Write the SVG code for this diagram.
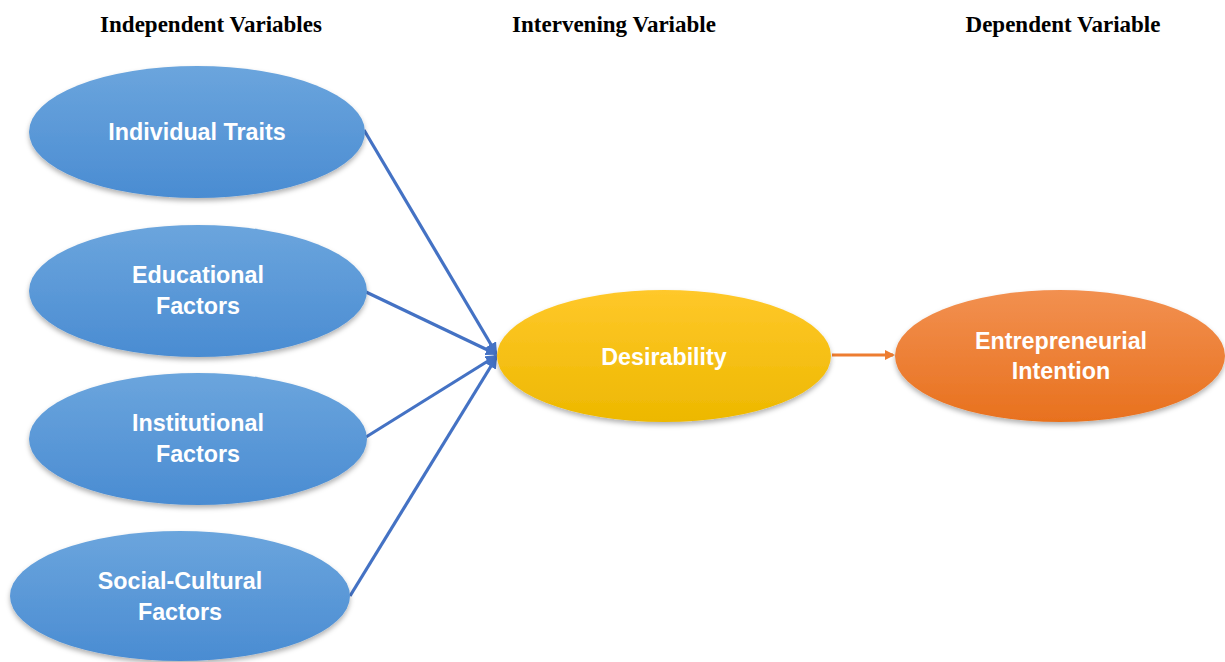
<svg xmlns="http://www.w3.org/2000/svg" width="1225" height="662" viewBox="0 0 1225 662">
<style>
.hdr{font-family:"Liberation Serif",serif;font-weight:bold;font-size:23px;fill:#000;text-anchor:middle}
.lbl{font-family:"Liberation Sans",Arial,sans-serif;font-weight:bold;font-size:23.3px;fill:#fff;text-anchor:middle}
.blue{fill:url(#gBlue);filter:url(#sh)}
.edge{stroke:#4472C4;stroke-width:3.2;fill:none}
</style>
<defs>
<linearGradient id="gBlue" x1="0" y1="0" x2="0" y2="1"><stop offset="0" stop-color="#6BA5DD"/><stop offset="1" stop-color="#4A8CD2"/></linearGradient>
<linearGradient id="gYel" x1="0" y1="0" x2="0" y2="1"><stop offset="0" stop-color="#FFC82A"/><stop offset="1" stop-color="#EDB800"/></linearGradient>
<linearGradient id="gOr" x1="0" y1="0" x2="0" y2="1"><stop offset="0" stop-color="#F29050"/><stop offset="1" stop-color="#E8711E"/></linearGradient>
<filter id="sh" x="-10%" y="-10%" width="120%" height="130%"><feDropShadow dx="0" dy="3" stdDeviation="2.5" flood-color="#000" flood-opacity="0.3"/></filter>
<marker id="aB" markerWidth="12" markerHeight="12" refX="10" refY="6" orient="auto" markerUnits="userSpaceOnUse"><path d="M0,0 L12,6 L0,12 Z" fill="#4472C4"/></marker>
<marker id="aO" markerWidth="10" markerHeight="10" refX="8" refY="5" orient="auto" markerUnits="userSpaceOnUse"><path d="M0,0 L10,5 L0,10 Z" fill="#ED7D31"/></marker>
</defs>
<rect width="1225" height="662" fill="#fff"/>
<text class="hdr" x="211" y="32">Independent Variables</text>
<text class="hdr" x="614" y="32">Intervening Variable</text>
<text class="hdr" x="1063" y="32">Dependent Variable</text>
<g id="connectors">
<line class="edge" x1="364" y1="130" x2="496" y2="353" marker-end="url(#aB)"/>
<line class="edge" x1="366" y1="292" x2="496" y2="354" marker-end="url(#aB)"/>
<line class="edge" x1="366" y1="437" x2="496" y2="356" marker-end="url(#aB)"/>
<line class="edge" x1="350" y1="596" x2="496" y2="358" marker-end="url(#aB)"/>
<line x1="832" y1="355" x2="893" y2="355" stroke="#ED7D31" stroke-width="3" marker-end="url(#aO)"/>
</g>
<g id="n-individual">
<ellipse class="blue" cx="197" cy="132" rx="168" ry="66"/>
<text class="lbl" x="197" y="140">Individual Traits</text>
</g>
<g id="n-educational">
<ellipse class="blue" cx="198" cy="291" rx="169" ry="66"/>
<text class="lbl" x="198" y="283">Educational</text>
<text class="lbl" x="198" y="314">Factors</text>
</g>
<g id="n-institutional">
<ellipse class="blue" cx="198" cy="439" rx="169" ry="66"/>
<text class="lbl" x="198" y="431">Institutional</text>
<text class="lbl" x="198" y="462">Factors</text>
</g>
<g id="n-social">
<ellipse class="blue" cx="180" cy="596" rx="170" ry="65"/>
<text class="lbl" x="180" y="589">Social-Cultural</text>
<text class="lbl" x="180" y="620">Factors</text>
</g>
<g id="n-desirability">
<ellipse cx="664" cy="356" rx="167" ry="66" fill="url(#gYel)" filter="url(#sh)"/>
<text class="lbl" x="664" y="365">Desirability</text>
</g>
<g id="n-intention">
<ellipse cx="1060" cy="356" rx="165" ry="66" fill="url(#gOr)" filter="url(#sh)"/>
<text class="lbl" x="1061" y="349">Entrepreneurial</text>
<text class="lbl" x="1061" y="379">Intention</text>
</g>
</svg>
